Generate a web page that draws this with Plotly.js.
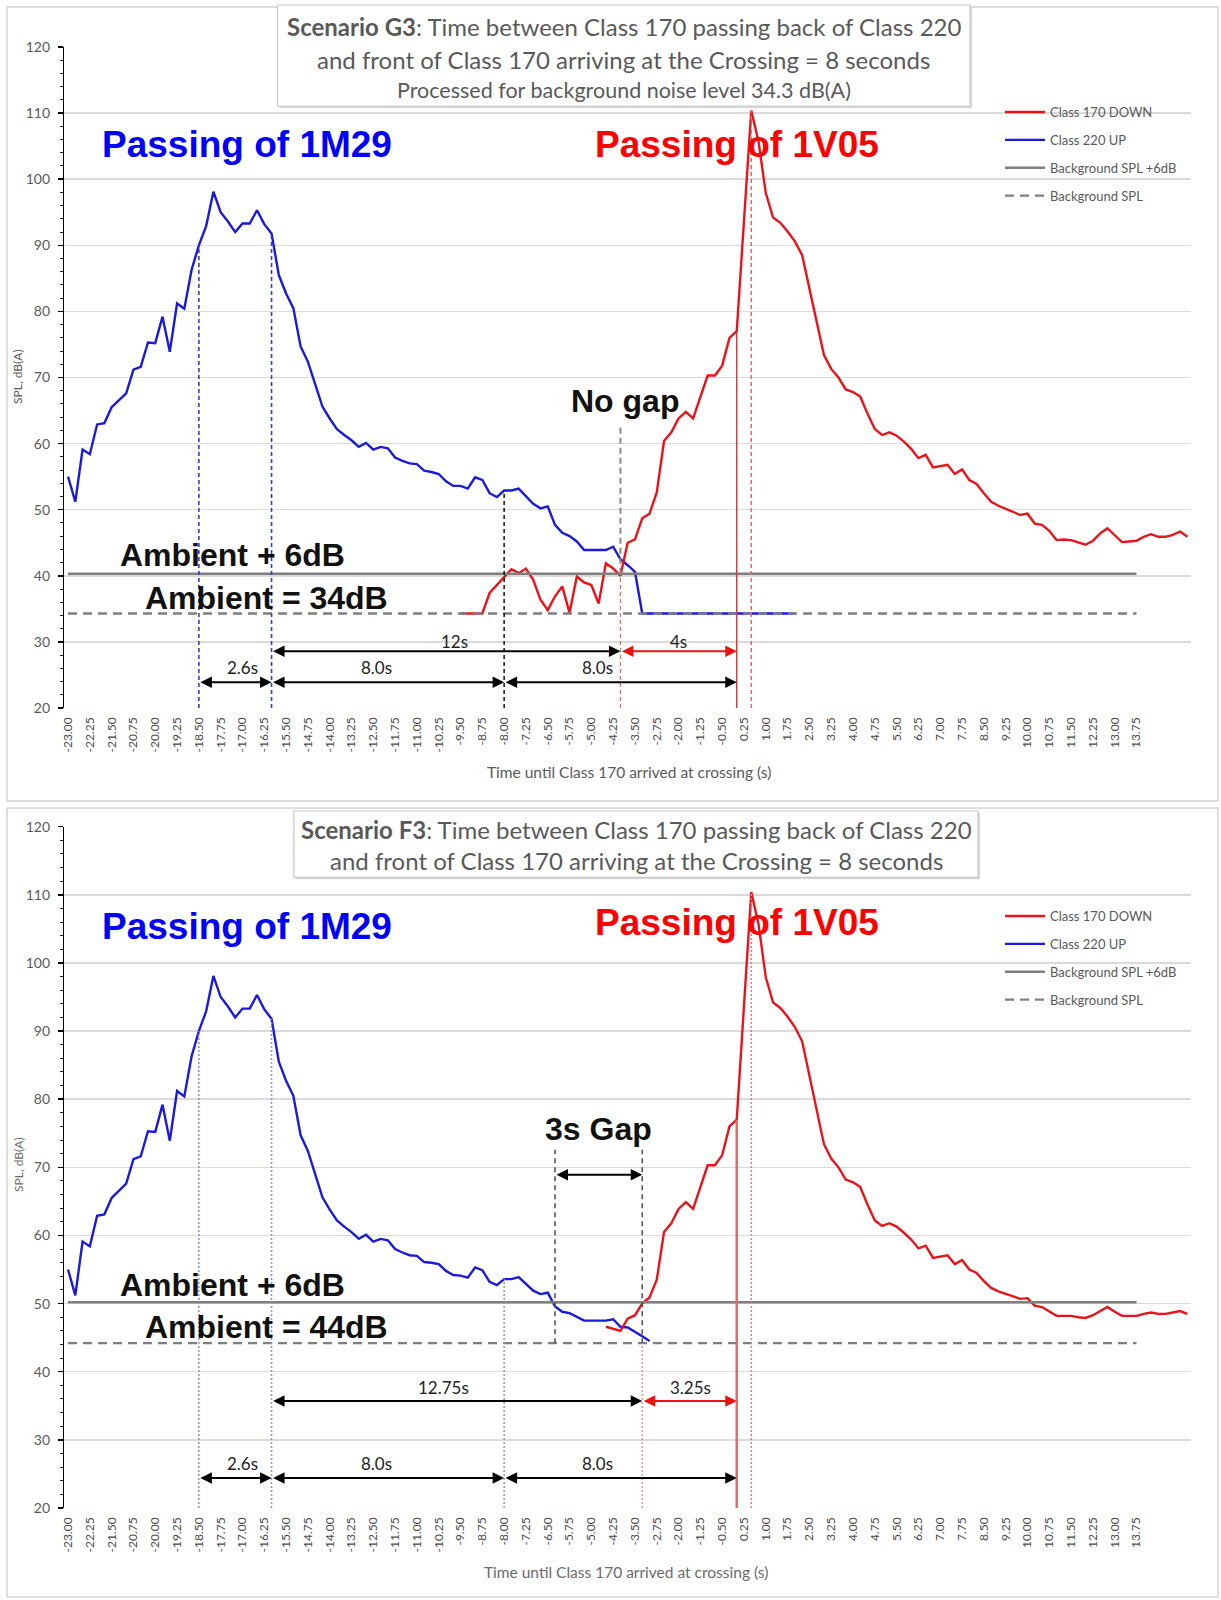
<!DOCTYPE html>
<html>
<head>
<meta charset="utf-8">
<script src="https://cdn.plot.ly/plotly-3.0.1.min.js"></script>
<style>
  html, body { margin: 0; padding: 0; background: #ffffff; }
  #chart { width: 1221px; height: 1600px; }
</style>
</head>
<body>
<div id="chart"></div>
<script>
// ---------------- DATA ----------------
// Time until Class 170 arrived at crossing (s), one category every 0.25 s
const time = [
  -23.00,-22.75,-22.50,-22.25,-22.00,-21.75,-21.50,-21.25,-21.00,-20.75,
  -20.50,-20.25,-20.00,-19.75,-19.50,-19.25,-19.00,-18.75,-18.50,-18.25,
  -18.00,-17.75,-17.50,-17.25,-17.00,-16.75,-16.50,-16.25,-16.00,-15.75,
  -15.50,-15.25,-15.00,-14.75,-14.50,-14.25,-14.00,-13.75,-13.50,-13.25,
  -13.00,-12.75,-12.50,-12.25,-12.00,-11.75,-11.50,-11.25,-11.00,-10.75,
  -10.50,-10.25,-10.00,-9.75,-9.50,-9.25,-9.00,-8.75,-8.50,-8.25,
  -8.00,-7.75,-7.50,-7.25,-7.00,-6.75,-6.50,-6.25,-6.00,-5.75,
  -5.50,-5.25,-5.00,-4.75,-4.50,-4.25,-4.00,-3.75,-3.50,-3.25,
  -3.00,-2.75,-2.50,-2.25,-2.00,-1.75,-1.50,-1.25,-1.00,-0.75,
  -0.50,-0.25,0.00,0.25,0.50,0.75,1.00,1.25,1.50,1.75,
  2.00,2.25,2.50,2.75,3.00,3.25,3.50,3.75,4.00,4.25,
  4.50,4.75,5.00,5.25,5.50,5.75,6.00,6.25,6.50,6.75,
  7.00,7.25,7.50,7.75,8.00,8.25,8.50,8.75,9.00,9.25,
  9.50,9.75,10.00,10.25,10.50,10.75,11.00,11.25,11.50,11.75,
  12.00,12.25,12.50,12.75,13.00,13.25,13.50,13.75,14.00,14.25,
  14.50,14.75,15.00,15.25,15.50
];

// Category labels shown on the axis
const tickLabels = [
  "-23.00","-22.25","-21.50","-20.75","-20.00","-19.25","-18.50","-17.75","-17.00","-16.25",
  "-15.50","-14.75","-14.00","-13.25","-12.50","-11.75","-11.00","-10.25","-9.50","-8.75",
  "-8.00","-7.25","-6.50","-5.75","-5.00","-4.25","-3.50","-2.75","-2.00","-1.25",
  "-0.50","0.25","1.00","1.75","2.50","3.25","4.00","4.75","5.50","6.25",
  "7.00","7.75","8.50","9.25","10.00","10.75","11.50","12.25","13.00","13.75"
];

// Scenario G3 — Class 220 UP (starts at -23.00)
const g3BlueStart = -23.00;
const g3Blue = [
  55.0,51.2,59.1,58.4,62.9,63.1,65.5,66.6,67.6,71.2,
  71.6,75.3,75.2,79.2,73.9,81.2,80.4,86.3,90.0,92.9,
  98.1,95.0,93.6,92.0,93.3,93.3,95.3,93.2,91.8,85.5,
  82.7,80.5,74.7,72.4,68.9,65.6,63.8,62.2,61.3,60.5,
  59.5,60.1,59.1,59.5,59.3,57.9,57.4,57.0,56.9,55.9,
  55.7,55.4,54.3,53.6,53.6,53.2,54.9,54.5,52.5,51.9,
  52.9,52.9,53.2,52.0,50.9,50.2,50.5,47.7,46.5,46.0,
  45.2,43.9,43.9,44.0,43.9,44.4,42.5,41.6,40.6,34.3,
  34.3,34.3,34.3,34.3,34.3,34.3,34.3,34.3,34.3,34.3,
  34.3,34.3,34.3,34.3,34.3,34.3,34.3,34.3,34.3,34.3,
  34.3
];
// Scenario G3 — Class 170 DOWN (starts at -9.50)
const g3RedStart = -9.50;
const g3Red = [
  34.3,34.3,34.3,34.3,37.4,38.6,39.9,41.0,40.4,41.1,
  39.4,36.4,34.8,36.9,38.4,34.4,39.9,39.0,38.6,35.8,
  41.9,41.1,40.0,45.0,45.5,48.7,49.4,52.6,60.4,61.7,
  63.8,64.8,63.8,67.1,70.3,70.3,71.8,76.0,77.0,93.7,
  110.4,105.7,97.9,94.2,93.4,92.1,90.6,88.5,83.3,78.1,
  73.4,71.3,70.0,68.2,67.8,67.1,64.5,62.2,61.3,61.7,
  61.2,60.3,59.2,57.8,58.3,56.4,56.6,56.8,55.4,56.1,
  54.5,53.9,52.5,51.2,50.6,50.1,49.7,49.2,49.4,47.9,
  47.7,46.8,45.4,45.5,45.4,45.1,44.7,45.3,46.4,47.2,
  46.2,45.1,45.2,45.3,45.9,46.3,45.9,45.9,46.2,46.7,
  45.9
];
const g3Background = 34.3;
const g3BackgroundPlus6 = 40.3;

// Scenario F3 — Class 220 UP (starts at -23.00)
const f3BlueStart = -23.00;
const f3Blue = [
  55.0,51.2,59.1,58.4,62.9,63.1,65.5,66.6,67.6,71.2,
  71.6,75.3,75.2,79.2,73.9,81.2,80.4,86.3,90.0,92.9,
  98.1,95.0,93.6,92.0,93.3,93.3,95.3,93.2,91.8,85.5,
  82.7,80.5,74.7,72.4,68.9,65.6,63.8,62.2,61.3,60.5,
  59.5,60.1,59.1,59.5,59.3,58.0,57.5,57.1,57.0,56.1,
  56.0,55.8,54.8,54.2,54.1,53.8,55.3,54.9,53.2,52.7,
  53.6,53.6,53.9,52.9,51.9,51.4,51.6,49.6,48.8,48.6,
  48.0,47.5,47.5,47.5,47.5,47.7,46.6,46.5,45.9,45.2,
  44.5
];
// Scenario F3 — Class 170 DOWN (starts at -4.50)
const f3RedStart = -4.50;
const f3Red = [
  46.6,46.3,46.0,47.8,48.3,50.0,50.9,53.5,60.5,61.8,
  63.9,64.9,63.9,67.1,70.3,70.3,71.8,76.0,77.0,93.7,
  110.4,105.7,97.9,94.2,93.4,92.1,90.6,88.5,83.3,78.1,
  73.4,71.3,70.0,68.2,67.8,67.1,64.5,62.2,61.4,61.8,
  61.3,60.4,59.4,58.1,58.5,56.7,56.9,57.1,55.8,56.4,
  55.0,54.5,53.3,52.3,51.8,51.4,51.1,50.7,50.8,49.7,
  49.5,48.9,48.2,48.2,48.2,48.0,47.9,48.3,48.9,49.5,
  48.8,48.2,48.2,48.2,48.5,48.7,48.5,48.5,48.7,48.9,
  48.5
];
const f3Background = 44.2;
const f3BackgroundPlus6 = 50.2;
const backgroundEnd = 13.75;

// Interval annotations (seconds)
const g3SpanFrom = [-18.5, -16.0, -8.0, -16.0, -4.0];
const g3SpanTo   = [-16.0,  -8.0,  0.0,  -4.0,  0.0];
const g3SpanText = ["2.6s", "8.0s", "8.0s", "12s", "4s"];
const f3SpanFrom = [-18.5, -16.0, -8.0, -16.0, -3.25, -6.25];
const f3SpanTo   = [-16.0,  -8.0,  0.0,  -3.25, 0.0, -3.25];
const f3SpanText = ["2.6s", "8.0s", "8.0s", "12.75s", "3.25s", ""];

// ---------------- LAYOUT HELPERS ----------------
const W = 1221, H = 1600;
const px = x => x / W;
const py = y => 1 - y / H;
const xDomain = [px(64.4), px(1191)];
const xRange = [-23.125, 15.625];
const tickVals = tickLabels.map(parseFloat);

function xsFrom(start, n) {
  const i0 = time.indexOf(start);
  return time.slice(i0, i0 + n);
}
function yAt(series, start, t) {
  return series[time.indexOf(t) - time.indexOf(start)];
}

const RED = '#e8131b', BLUE = '#1a1ad8', GREY = '#7f7f7f';
const LBL = 'Lato, "Open Sans", sans-serif';
const BOLD = '"Liberation Sans", Arial, sans-serif';

const traces = [];
function addSeries(xa, ya, legendId, blue, blueStart, red, redStart, bg, bg6) {
  const bgEndIdx = time.indexOf(backgroundEnd);
  traces.push({
    x: xsFrom(blueStart, blue.length), y: blue, xaxis: xa, yaxis: ya,
    type: 'scatter', mode: 'lines', name: 'Class 220 UP',
    line: { color: BLUE, width: 2.4 }, legend: legendId,
    legendgroup: legendId + 'b', legendrank: 2, hoverinfo: 'skip'
  });
  traces.push({
    x: xsFrom(redStart, red.length), y: red, xaxis: xa, yaxis: ya,
    type: 'scatter', mode: 'lines', name: 'Class 170 DOWN',
    line: { color: RED, width: 2.4 }, legend: legendId,
    legendgroup: legendId + 'r', legendrank: 1, hoverinfo: 'skip'
  });
  traces.push({
    x: [time[0], time[bgEndIdx]], y: [bg6, bg6], xaxis: xa, yaxis: ya,
    type: 'scatter', mode: 'lines', name: 'Background SPL +6dB',
    line: { color: GREY, width: 2.4 }, legend: legendId,
    legendgroup: legendId + 'g6', legendrank: 3, hoverinfo: 'skip'
  });
  traces.push({
    x: [time[0], time[bgEndIdx]], y: [bg, bg], xaxis: xa, yaxis: ya,
    type: 'scatter', mode: 'lines', name: 'Background SPL',
    line: { color: GREY, width: 2.4, dash: '9px,6px' }, legend: legendId,
    legendgroup: legendId + 'g', legendrank: 4, hoverinfo: 'skip'
  });
}
addSeries('x', 'y', 'legend', g3Blue, g3BlueStart, g3Red, g3RedStart, g3Background, g3BackgroundPlus6);
addSeries('x2', 'y2', 'legend2', f3Blue, f3BlueStart, f3Red, f3RedStart, f3Background, f3BackgroundPlus6);

const shapes = [];
const annotations = [];

// outer frames
shapes.push({ type: 'rect', xref: 'paper', yref: 'paper', x0: px(7), x1: px(1218), y0: py(801), y1: py(7),
  line: { color: '#d4d4d4', width: 1.5 }, fillcolor: 'rgba(0,0,0,0)', layer: 'below' });
shapes.push({ type: 'rect', xref: 'paper', yref: 'paper', x0: px(7), x1: px(1218), y0: py(1597), y1: py(808),
  line: { color: '#d4d4d4', width: 1.5 }, fillcolor: 'rgba(0,0,0,0)', layer: 'below' });

function vline(xa, ya, t, y0, y1, color, dash, width) {
  shapes.push({ type: 'line', xref: xa, yref: ya, x0: t, x1: t, y0: y0, y1: y1,
    line: { color: color, dash: dash, width: width }, layer: 'above' });
}
function spanArrow(xa, ya, t0, t1, y, color) {
  annotations.push({ xref: xa, yref: ya, axref: xa, ayref: ya,
    x: t1, y: y, ax: t0, ay: y, text: '', showarrow: true,
    arrowhead: 2, startarrowhead: 2, arrowside: 'end+start',
    arrowsize: 1.15, startarrowsize: 1.15, arrowwidth: 2, arrowcolor: color,
    standoff: 0, startstandoff: 0 });
}
function label(xa, ya, t, v, text, size, color, font) {
  annotations.push({ xref: xa, yref: ya, x: t, y: v, text: text, showarrow: false,
    xanchor: 'center', yanchor: 'middle',
    font: { family: font || LBL, size: size, color: color || '#222' } });
}
function paperText(x, y, text, size, color, angle) {
  annotations.push({ xref: 'paper', yref: 'paper', x: px(x), y: py(y), text: text,
    showarrow: false, xanchor: 'center', yanchor: 'middle', textangle: angle || 0,
    font: { family: LBL, size: size, color: color || '#595959' } });
}
function titleBox(x0, y0, x1, y1) {
  shapes.push({ type: 'rect', xref: 'paper', yref: 'paper', x0: px(x0 + 2), x1: px(x1 + 2), y0: py(y1 + 2), y1: py(y0 + 2),
    line: { width: 0 }, fillcolor: '#d9d9d9', layer: 'above' });
  shapes.push({ type: 'rect', xref: 'paper', yref: 'paper', x0: px(x0), x1: px(x1), y0: py(y1), y1: py(y0),
    line: { color: '#c8c8c8', width: 1.2 }, fillcolor: '#ffffff', layer: 'above' });
}

// ----- G3 (top) -----
vline('x', 'y', -18.5, 20, yAt(g3Blue, g3BlueStart, -18.5), '#3a3ac0', '4px,3px', 1.6);
vline('x', 'y', -16.0, 20, yAt(g3Blue, g3BlueStart, -16.0), '#3a3ac0', '4px,3px', 1.6);
vline('x', 'y', -8.0, 20, yAt(g3Blue, g3BlueStart, -8.0), '#111111', '4px,3px', 1.5);
vline('x', 'y', -4.0, g3BackgroundPlus6, 62.6, '#8a8a8a', '6px,4px', 2);
vline('x', 'y', -4.0, 20, g3BackgroundPlus6, '#e06a6a', '4px,3px', 1.2);
vline('x', 'y', 0.0, 20, yAt(g3Red, g3RedStart, 0.0), '#d53c3c', 'solid', 1.5);
vline('x', 'y', 0.5, 20, yAt(g3Red, g3RedStart, 0.5), '#e06a6a', '4px,3px', 1.5);

const g3Rows = [23.9, 23.9, 23.9, 28.6, 28.6];
const g3LabelY = [26.2, 26.2, 26.2, 30.1, 30.1];
const g3LabelX = [-17.0, -12.4, -4.8, -9.7, -2.0];
const g3Colors = ['#000', '#000', '#000', '#000', '#ee1111'];
g3SpanFrom.forEach((t0, k) => {
  spanArrow('x', 'y', t0, g3SpanTo[k], g3Rows[k], g3Colors[k]);
  label('x', 'y', g3LabelX[k], g3LabelY[k], g3SpanText[k], 17, '#222');
});

label('x', 'y', -16.85, 105.3, '<b>Passing of 1M29</b>', 37, '#0000ff', BOLD);
label('x', 'y', 0.0, 105.3, '<b>Passing of 1V05</b>', 37, '#ff0000', BOLD);
label('x', 'y', -3.83, 66.5, '<b>No gap</b>', 32, '#111', BOLD);
label('x', 'y', -17.34, 43.2, '<b>Ambient + 6dB</b>', 32, '#111', BOLD);
label('x', 'y', -16.18, 36.7, '<b>Ambient = 34dB</b>', 32, '#111', BOLD);

titleBox(277.5, 5, 970, 106);
paperText(623.7, 26.5, '<b>Scenario G3</b>: Time between Class 170 passing back of Class 220', 24);
paperText(623.7, 59.2, 'and front of Class 170 arriving at the Crossing = 8 seconds', 24);
paperText(623.7, 89.8, 'Processed for background noise level 34.3 dB(A)', 21.5);
paperText(18, 377, 'SPL, dB(A)', 12, '#595959', -90);
paperText(629, 772, 'Time until Class 170 arrived at crossing (s)', 15.5);

// ----- F3 (bottom) -----
vline('x2', 'y2', -18.5, 20, yAt(f3Blue, f3BlueStart, -18.5), '#8a8af2', '2px,2px', 1.5);
vline('x2', 'y2', -16.0, 20, yAt(f3Blue, f3BlueStart, -16.0), '#8a8af2', '2px,2px', 1.5);
vline('x2', 'y2', -8.0, 20, yAt(f3Blue, f3BlueStart, -8.0), '#9a9a9a', '2px,2px', 1.5);
vline('x2', 'y2', -6.25, f3Background, 72.6, '#555555', '5px,4px', 1.6);
vline('x2', 'y2', -3.25, f3Background, 72.6, '#555555', '5px,4px', 1.6);
vline('x2', 'y2', -3.25, 20, f3Background, '#f08a8a', '2px,2px', 1.4);
vline('x2', 'y2', 0.0, 20, yAt(f3Red, f3RedStart, 0.0), '#e46a6a', 'solid', 2.5);
vline('x2', 'y2', 0.5, 20, yAt(f3Red, f3RedStart, 0.5), '#f07a7a', '2px,2px', 1.5);

const f3Rows = [24.4, 24.4, 24.4, 35.7, 35.7, 68.9];
const f3LabelY = [26.6, 26.6, 26.6, 37.7, 37.7, 0];
const f3LabelX = [-17.0, -12.4, -4.8, -10.1, -1.6, 0];
const f3Colors = ['#000', '#000', '#000', '#000', '#ee1111', '#000'];
f3SpanFrom.forEach((t0, k) => {
  spanArrow('x2', 'y2', t0, f3SpanTo[k], f3Rows[k], f3Colors[k]);
  if (f3SpanText[k]) label('x2', 'y2', f3LabelX[k], f3LabelY[k], f3SpanText[k], 17, '#222');
});

label('x2', 'y2', -16.85, 105.4, '<b>Passing of 1M29</b>', 37, '#0000ff', BOLD);
label('x2', 'y2', 0.0, 105.9, '<b>Passing of 1V05</b>', 37, '#ff0000', BOLD);
label('x2', 'y2', -4.74, 75.6, '<b>3s Gap</b>', 32, '#111', BOLD);
label('x2', 'y2', -17.34, 52.7, '<b>Ambient + 6dB</b>', 32, '#111', BOLD);
label('x2', 'y2', -16.18, 46.6, '<b>Ambient = 44dB</b>', 32, '#111', BOLD);

titleBox(293.8, 811, 978, 877.3);
paperText(636, 829.2, '<b>Scenario F3</b>: Time between Class 170 passing back of Class 220', 24);
paperText(636, 860.9, 'and front of Class 170 arriving at the Crossing = 8 seconds', 24);
paperText(18, 1165, 'SPL, dB(A)', 12, '#6a6a6a', -90);
paperText(626, 1572, 'Time until Class 170 arrived at crossing (s)', 15.5, '#6a6a6a');

// ----- axes -----
function xAxis(anchor) {
  return {
    domain: xDomain, anchor: anchor, range: xRange, type: 'linear',
    tickmode: 'array', tickvals: tickVals, ticktext: tickLabels, tickangle: -90,
    ticks: '', showgrid: false, zeroline: false, showline: false,
    tickfont: { family: LBL, size: 12, color: '#4a4a4a' }, ticklabelstandoff: 6
  };
}
function yAxis(anchor, domain) {
  return {
    domain: domain, anchor: anchor, range: [20, 120], tick0: 0, dtick: 10,
    showgrid: true, gridcolor: '#dadada', gridwidth: 1.5, zeroline: false,
    showline: true, linecolor: '#000', linewidth: 1.5,
    ticks: 'outside', ticklen: 5, tickwidth: 1.5, tickcolor: '#000',
    minor: { dtick: 2, ticks: 'outside', ticklen: 3, tickwidth: 1, tickcolor: '#222', showgrid: false },
    tickfont: { family: LBL, size: 14, color: '#595959' }, ticklabelstandoff: 5
  };
}

const legendStyle = (y) => ({
  x: px(1000), y: py(y), xanchor: 'left', yanchor: 'top',
  bgcolor: 'rgba(255,255,255,0)', borderwidth: 0,
  font: { family: LBL, size: 13, color: '#595959' },
  traceorder: 'grouped', tracegroupgap: 8, itemwidth: 40
});

const layout = {
  width: W, height: H, margin: { l: 0, r: 0, t: 0, b: 0 },
  paper_bgcolor: '#ffffff', plot_bgcolor: '#ffffff',
  font: { family: LBL, color: '#595959' },
  showlegend: true,
  legend: legendStyle(97),
  legend2: legendStyle(901),
  xaxis: xAxis('y'), yaxis: yAxis('x', [py(708), py(47)]),
  xaxis2: xAxis('y2'), yaxis2: yAxis('x2', [py(1508), py(826.7)]),
  shapes: shapes, annotations: annotations
};

Plotly.newPlot('chart', traces, layout, { staticPlot: true, displayModeBar: false });
</script>
</body>
</html>
